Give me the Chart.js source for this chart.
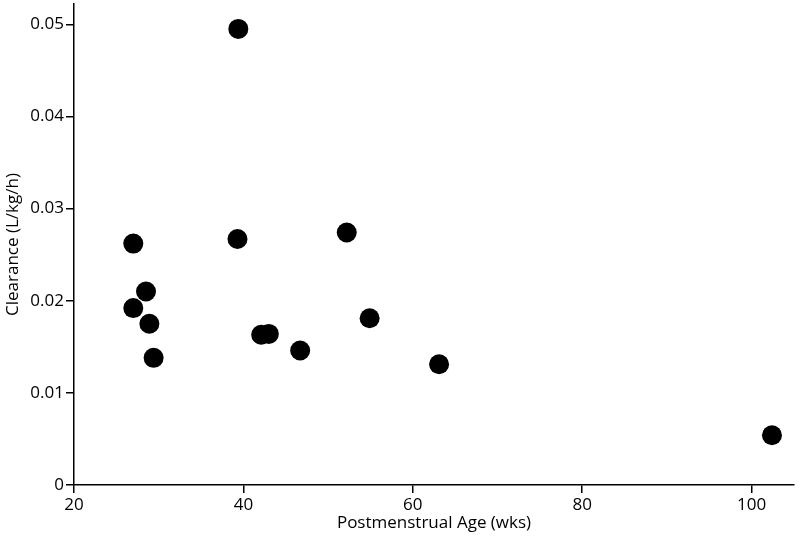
<!DOCTYPE html>
<html>
<head>
<meta charset="utf-8">
<script src="https://cdn.jsdelivr.net/npm/chart.js@4"></script>
<style>
  html, body { margin: 0; padding: 0; background: #fff; }
  #wrap { width: 800px; height: 546px; }
</style>
</head>
<body>
<div id="wrap"><canvas id="canvas" width="800" height="546"></canvas></div>
<script>
// postmenstrual age (wks) and clearance (L/kg/h)
const ages      = [39.4, 27.0, 28.5, 27.0, 28.9, 29.4, 39.3, 42.1, 43.0, 46.7, 52.2, 54.9, 63.1, 102.4]
const clearance = [0.0495, 0.0262, 0.0210, 0.0192, 0.0175, 0.0138, 0.0267, 0.0163, 0.0164, 0.0146, 0.0274, 0.0181, 0.0131, 0.0054]

const xTicks = [20, 40, 60, 80, 100]
const yTicks = [0, 0.01, 0.02, 0.03, 0.04, 0.05]
const yTickLabels = ["0", "0.01", "0.02", "0.03", "0.04", "0.05"]

const points = ages.map((a, i) => ({ x: a, y: clearance[i] }))

const font = { family: "'Open Sans', sans-serif", size: 17 }

const axisCommon = {
  type: "linear",
  grid: { drawOnChartArea: false, drawTicks: true, tickLength: 8, color: "#000", lineWidth: 1.5 },
  border: { display: true, color: "#000", width: 1.5 },
  ticks: { color: "#000", font: font, padding: 2 },
  title: { display: true, color: "#000", font: font }
}

new Chart(document.getElementById("canvas"), {
  type: "scatter",
  data: {
    datasets: [{
      data: points,
      backgroundColor: "#000",
      borderWidth: 0,
      pointRadius: 10,
      pointHoverRadius: 10
    }]
  },
  options: {
    responsive: false,
    animation: false,
    layout: { autoPadding: false, padding: { top: 4, right: 6, left: 0, bottom: 0 } },
    plugins: { legend: { display: false }, tooltip: { enabled: false } },
    scales: {
      x: {
        ...axisCommon,
        min: 20,
        max: 105,
        afterBuildTicks: s => { s.ticks = xTicks.map(v => ({ value: v })) },
        afterFit: s => { s.height = 61; s.paddingLeft = 0; s.paddingRight = 0 },
        title: { ...axisCommon.title, text: "Postmenstrual Age (wks)", padding: { top: 0, bottom: 13 } }
      },
      y: {
        ...axisCommon,
        min: 0,
        max: 0.0522,
        afterBuildTicks: s => { s.ticks = yTicks.map(v => ({ value: v })) },
        afterFit: s => { s.width = 74; s.paddingTop = 0; s.paddingBottom = 0 },
        ticks: { ...axisCommon.ticks, callback: v => yTickLabels[yTicks.indexOf(v)] },
        title: { ...axisCommon.title, text: "Clearance (L/kg/h)", padding: { top: 3, bottom: 0 } }
      }
    }
  }
})
</script>
</body>
</html>
